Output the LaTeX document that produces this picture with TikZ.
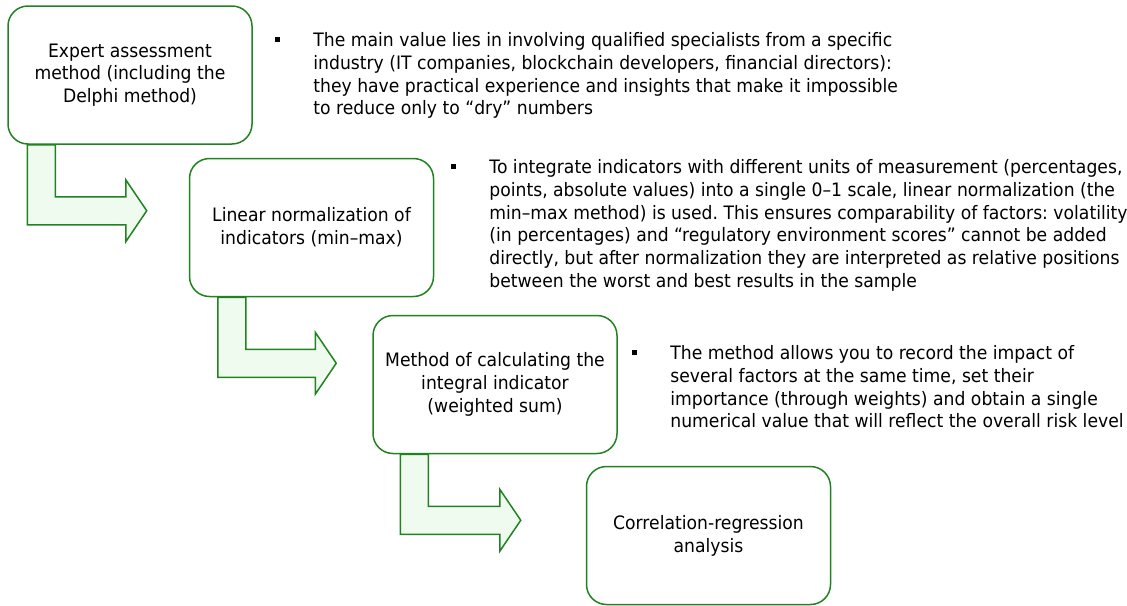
\documentclass[tikz,border=0pt]{standalone}
\usepackage{fontspec}
\setmainfont[FakeStretch=0.93]{DejaVu Sans}
\usetikzlibrary{calc}
\frenchspacing

\definecolor{boxgreen}{RGB}{34,130,34}
\definecolor{arrowgreen}{RGB}{238,251,238}

% bent arrow: source, target, stem offset, gap before target
\newcommand\bentarrow[4]{%
  \draw[bendarrow] let \p1=($(#1.south west)+(#3,0)$), \p2=($(#2.west)+(-#4,0)$),
    \p3=($(#1.south)+(0,66)$) in
    (\x1,\y1) -- (\x1,\y3-7pt) -- (\x2-10.5pt,\y3-7pt) -- (\x2-10.5pt,\y3-15.5pt)
    -- (\x2,\y3) -- (\x2-10.5pt,\y3+15.5pt) -- (\x2-10.5pt,\y3+7pt)
    -- (\x1+14pt,\y3+7pt) -- (\x1+14pt,\y1) -- cycle;}
\newcommand\notebullet{\llap{\raisebox{2.2pt}{\rule{2.5pt}{2.5pt}}\hspace{16.75pt}}}

\begin{document}
\begin{tikzpicture}[x=0.5pt, y=-0.5pt,
    method/.style ={draw=boxgreen, line width=0.75pt, rounded corners=10pt,
      minimum width=122pt, minimum height=69pt, inner sep=0pt, align=center,
      font=\fontsize{9.25}{11.4}\selectfont},
    note/.style ={anchor=north west, inner sep=0pt, align=left,
      font=\fontsize{9.25}{11.4}\selectfont},
    bendarrow/.style ={draw=boxgreen, fill=arrowgreen, line width=0.75pt}]
   \useasboundingbox (0,0) rectangle (1127,605);

   \node[method] (expert)     at (130,75)      {Expert assessment\\method (including the\\Delphi method)};
   \node[method] (linear)     at (311.5,227.5) {Linear normalization of\\indicators (min–max)};
   \node[method] (integral)   at (495,384.5)   {Method of calculating the\\integral indicator\\(weighted sum)};
   \node[method] (regression) at (708.5,535.5) {Correlation-regression\\analysis};

   \bentarrow{expert}{linear}{20}{42}
   \bentarrow{linear}{integral}{29}{36}
   \bentarrow{integral}{regression}{28}{65}

   \node[note] (expertnote) at (313,32) {\notebullet The main value lies in involving qualified specialists from a specific\\
     industry (IT companies, blockchain developers, financial directors):\\
     they have practical experience and insights that make it impossible\\
     to reduce only to “dry” numbers};
   \node[note] (linearnote) at (489,159)
     {\notebullet To integrate indicators with different units of measurement (percentages,\\
     points, absolute values) into a single 0–1 scale, linear normalization (the\\
     min–max method) is used. This ensures comparability of factors: volatility\\
     (in percentages) and “regulatory environment scores” cannot be added\\
     directly, but after normalization they are interpreted as relative positions\\
     between the worst and best results in the sample};
   \node[note] (integralnote) at (670,345) {\notebullet The method allows you to record the impact of\\
     several factors at the same time, set their\\
     importance (through weights) and obtain a single\\
     numerical value that will reflect the overall risk level};
 \end{tikzpicture}
\end{document}
